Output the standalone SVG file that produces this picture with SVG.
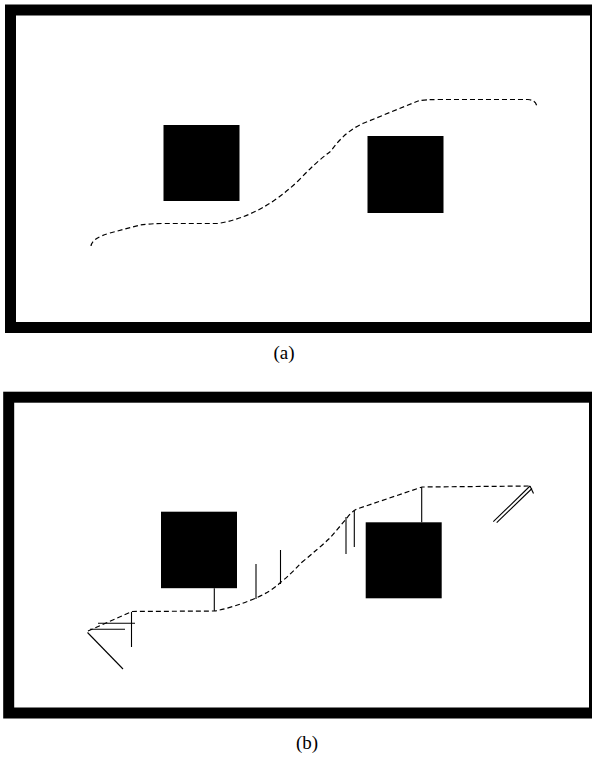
<svg xmlns="http://www.w3.org/2000/svg" width="592" height="759" viewBox="0 0 592 759">
<style>
.frame{fill:none;stroke:#000;stroke-width:11}
.box{fill:#000}
.dash{fill:none;stroke:#000;stroke-width:1.2;stroke-dasharray:5 3}
.solid{fill:none;stroke:#000;stroke-width:1.1}
.cap{font-family:"Liberation Serif","Times New Roman",serif;font-size:19px;fill:#000;text-anchor:middle}
</style>
<rect width="592" height="759" fill="#fff"/>
<g id="panel-a">
  <rect class="frame" x="10.5" y="10" width="585" height="317.5"/>
  <g id="a-obstacle-left"><rect class="box" x="163.5" y="125" width="76" height="76"/></g>
  <g id="a-obstacle-right"><rect class="box" x="367.5" y="136" width="76" height="77"/></g>
  <g id="a-connectors">
    <path class="dash" d="M91,246 Q92,238 110,233 L140,225 Q150,223.5 165,223.5 L218,223.5 Q240,220 262,208 Q280,198 298,181 Q316,162 331,151 Q345,131 364,123 L418,101 Q425,99.5 440,99.5 L528,99.5 Q536,100 537,107"/>
  </g>
  <text class="cap" x="284" y="359">(a)</text>
</g>
<g id="panel-b">
  <rect class="frame" x="8.7" y="397.2" width="585.8" height="315.8"/>
  <g id="b-obstacle-left"><rect class="box" x="161" y="511.7" width="76" height="76.5"/></g>
  <g id="b-obstacle-right"><rect class="box" x="365.7" y="522.3" width="76" height="76"/></g>
  <g id="b-connectors">
    <path class="dash" d="M88,631 L132,611.5 L215,611 Q235,607 256,598 Q270,592 280,583 Q292,573 301,563 Q318,549 330,538 L347,518 Q351,512 357,509 L422,487 L530,486"/>
    <line class="solid" x1="214.3" y1="588.3" x2="214.3" y2="611"/>
    <line class="solid" x1="131.5" y1="612" x2="131.5" y2="647"/>
    <line class="solid" x1="98" y1="623.3" x2="135" y2="623.3"/>
    <line class="solid" x1="90" y1="629.3" x2="125" y2="629.3"/>
    <line class="solid" x1="87.5" y1="632.5" x2="123" y2="669"/>
    <line class="solid" x1="256" y1="564" x2="256" y2="599"/>
    <line class="solid" x1="280.5" y1="550" x2="280.5" y2="584"/>
    <line class="solid" x1="346" y1="517" x2="346" y2="554"/>
    <line class="solid" x1="354.3" y1="511" x2="354.3" y2="547"/>
    <line class="solid" x1="421.7" y1="487" x2="421.7" y2="522.3"/>
    <line class="solid" x1="530" y1="486" x2="493.3" y2="521.7"/>
    <line class="solid" x1="532" y1="488.5" x2="496.7" y2="522.7"/>
    <line class="solid" x1="530" y1="486" x2="533.5" y2="493.5"/>
  </g>
  <text class="cap" x="307" y="749">(b)</text>
</g>
</svg>
